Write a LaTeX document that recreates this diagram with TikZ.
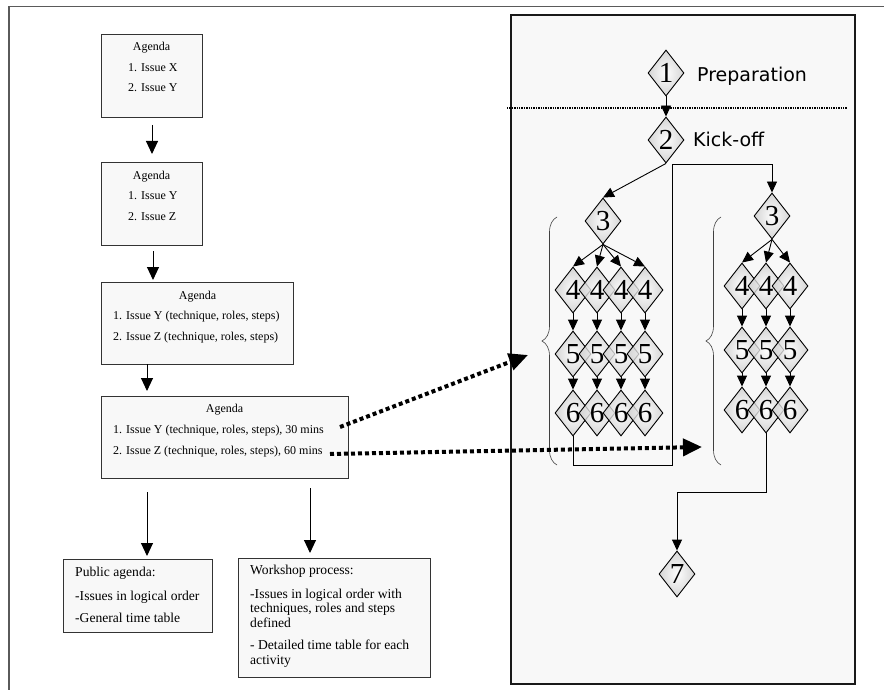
\documentclass[tikz,border=0pt]{standalone}
\usepackage{fontspec}
\setmainfont{Liberation Serif}
\newfontfamily\labelsans{DejaVu Sans}
\usetikzlibrary{arrows.meta,shapes.geometric,decorations.pathreplacing}
\definecolor{panelfill}{HTML}{F8F8F8}
\definecolor{boxfill}{HTML}{F8F8F8}
\definecolor{framegray}{HTML}{5A5A5A}

\begin{document}
\begin{tikzpicture}[x=1pt,y=-1pt,
  box/.style={draw=black!80, line width=0.8pt, fill=boxfill, inner sep=0pt, anchor=north west},
  agline/.style={font=\fontsize{12}{14}\selectfont, inner sep=0pt},
  noteline/.style={font=\fontsize{13.6}{16}\selectfont, inner sep=0pt, anchor=base west},
  flowarr/.style={-{Triangle[length=13pt,width=12pt]}, line width=1pt},
  arr/.style={-{Triangle[length=11pt,width=10pt]}, line width=0.9pt},
  dotarr/.style={line width=4pt, dash pattern=on 4pt off 3pt, -{Triangle[length=19pt,width=17pt]}},
  dia/.style={diamond, draw=black, line width=0.9pt, minimum width=36pt, minimum height=46pt,
    inner sep=0pt, inner color=white, outer color=black!20, fill opacity=0.78, text opacity=1,
    font=\fontsize{29}{29}\selectfont},
  phase/.style={font=\labelsans\fontsize{19}{22}\selectfont, inner sep=0pt, anchor=base west},
  brace/.style={decorate, decoration={brace, amplitude=15pt}, line width=0.6pt, draw=black!75}
]
\useasboundingbox (0,0) rectangle (884,690);

% open outer frame
\draw[framegray, line width=1.6pt] (9,690) -- (9,6.5) -- (884,6.5);

% ---------- agenda evolution (left column) ----------
\node[box, minimum width=101pt, minimum height=83pt] (b1) at (101,34) {};
\node[agline, anchor=base] (b1t) at (151.5,51) {Agenda};
\node[agline, anchor=base west] (b1a) at (128,71.5) {1. Issue X};
\node[agline, anchor=base west] (b1b) at (128,92) {2. Issue Y};

\node[box, minimum width=101pt, minimum height=83pt] (b2) at (101,162) {};
\node[agline, anchor=base] (b2t) at (151.5,179) {Agenda};
\node[agline, anchor=base west] (b2a) at (128,199.5) {1. Issue Y};
\node[agline, anchor=base west] (b2b) at (128,220) {2. Issue Z};

\node[box, minimum width=192pt, minimum height=82pt] (b3) at (101,282) {};
\node[agline, anchor=base] (b3t) at (197.5,299) {Agenda};
\node[agline, anchor=base west] (b3a) at (113,319.5) {1. Issue Y (technique, roles, steps)};
\node[agline, anchor=base west] (b3b) at (113,340) {2. Issue Z (technique, roles, steps)};

\node[box, minimum width=247pt, minimum height=82pt] (b4) at (101,396) {};
\node[agline, anchor=base] (b4t) at (224.5,412) {Agenda};
\node[agline, anchor=base west] (b4a) at (113,433) {1. Issue Y (technique, roles, steps), 30 mins};
\node[agline, anchor=base west] (b4b) at (113,454) {2. Issue Z (technique, roles, steps), 60 mins};

\node[box, minimum width=149pt, minimum height=73pt] (b5) at (63,559) {};
\node[noteline] (b5a) at (75,576.5) {Public agenda:};
\node[noteline] (b5b) at (75,600) {-Issues in logical order};
\node[noteline] (b5c) at (75,622.5) {-General time table};

\node[box, minimum width=192pt, minimum height=119pt] (b6) at (238,558) {};
\node[noteline] (b6a) at (250,574.5) {Workshop process:};
\node[noteline] (b6b) at (250,598) {-Issues in logical order with};
\node[noteline] (b6c) at (250,612.5) {techniques, roles and steps};
\node[noteline] (b6d) at (250,627) {defined};
\node[noteline] (b6e) at (250,649.5) {- Detailed time table for each};
\node[noteline] (b6f) at (250,664) {activity};

% arrows between the agenda stages
\coordinate (a1s) at (152,125);  \coordinate (a1e) at (152,154);
\coordinate (a2s) at (153,251);  \coordinate (a2e) at (153,280);
\coordinate (a3s) at (147,364);  \coordinate (a3e) at (147,391);
\coordinate (a4s) at (147,492);  \coordinate (a4e) at (147,556);
\coordinate (a5s) at (310,488);  \coordinate (a5e) at (310,553);
\draw[flowarr] (a1s) -- (a1e);
\draw[flowarr] (a2s) -- (a2e);
\draw[flowarr] (a3s) -- (a3e);
\draw[flowarr] (a4s) -- (a4e);
\draw[flowarr] (a5s) -- (a5e);

% ---------- workshop process panel ----------
\draw[fill=panelfill, draw=black!90, line width=1.3pt] (511,15) rectangle (855,684);
\draw[line width=1.2pt, dash pattern=on 1.4pt off 1pt] (507,108) -- (847,108);

\node[dia] (D1) at (666,73) {1};
\node[dia] (D2) at (666,140) {2};
\node[phase] (prep) at (697,82) {Preparation};
\node[phase] (kick) at (693,147) {Kick-off};

% first issue: four parallel tracks
\node[dia] (L3) at (603,221) {3};
\foreach \r/\y in {4/290,5/354,6/413}{
  \foreach \c/\x in {a/573,b/597,c/621,d/645}{
    \node[dia] (L\r\c) at (\x,\y) {\r};
  }
}
% second issue: three parallel tracks
\node[dia] (R3) at (772,216) {3};
\foreach \r/\y in {4/286,5/350,6/410}{
  \foreach \c/\x in {a/742,b/766,c/790}{
    \node[dia] (R\r\c) at (\x,\y) {\r};
  }
}
\node[dia] (D7) at (677,574) {7};

\draw[brace] (557,465) -- (557,217);
\draw[brace] (721,465) -- (721,217);

\draw[arr] (D1.south) -- (D2.north);
\draw[arr] (D2.south) -- (L3.north);
\foreach \c in {a,b,c,d}{
  \draw[arr] (L3.south) -- (L4\c.north);
  \draw[arr] (L4\c.south) -- (L5\c.north);
  \draw[arr] (L5\c.south) -- (L6\c.north);
}
\foreach \c in {a,b,c}{
  \draw[arr] (R3.south) -- (R4\c.north);
  \draw[arr] (R4\c.south) -- (R5\c.north);
  \draw[arr] (R5\c.south) -- (R6\c.north);
}
\coordinate (ja) at (672,465);
\coordinate (jb) at (672,164);
\draw[arr] (L6a.south) |- (ja) -- (jb) -| (R3.north);
\coordinate (jc) at (677,492);
\draw[arr] (R6b.south) |- (jc) -- (D7.north);

% timed agenda items mapped onto the process
\coordinate (s1) at (340,427);  \coordinate (e1) at (528,355);
\coordinate (s2) at (330,454);  \coordinate (e2) at (702,447);
\draw[dotarr] (s1) -- (e1);
\draw[dotarr] (s2) -- (e2);
\end{tikzpicture}
\end{document}
